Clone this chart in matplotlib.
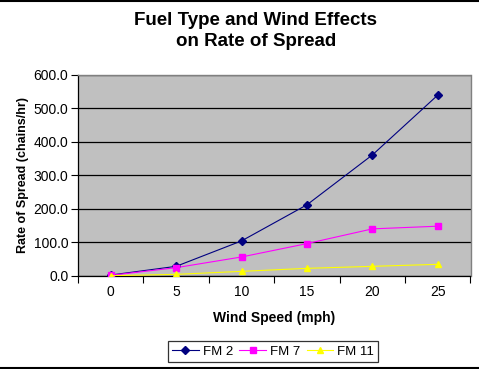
import matplotlib
matplotlib.use("Agg")
import matplotlib.pyplot as plt
from matplotlib.lines import Line2D

wind_speed = ["0", "5", "10", "15", "20", "25"]
fm2 = [2, 28, 104, 212, 361, 540]
fm7 = [1, 24, 56, 96, 140, 148]
fm11 = [0, 4, 13, 22, 28, 34]
yticks = [0, 100, 200, 300, 400, 500, 600]

plt.rcParams['font.family'] = ['Liberation Sans', 'DejaVu Sans']

fig = plt.figure(figsize=(4.79, 3.69), dpi=100)
fig.patch.set_facecolor('white')
ax = fig.add_axes([78/479, 1 - 275.7/369, (470.5-78)/479, (275.7-75)/369])
ax.set_facecolor('#C0C0C0')

x = list(range(len(wind_speed)))
ax.set_axisbelow(True)
ax.yaxis.grid(True, color='black', linewidth=0.9)
ax.plot(x, fm2, color='#000080', marker='D', markersize=4, linewidth=0.8, label='FM 2', zorder=3)
ax.plot(x, fm7, color='#FF00FF', marker='s', markersize=5, linewidth=0.8, label='FM 7', zorder=3)
ax.plot(x, fm11, color='#FFFF00', marker='^', markersize=5, linewidth=0.8, label='FM 11', zorder=3)

ax.set_xlim(-0.5, len(wind_speed) - 0.5)
ax.set_ylim(0, 600)
ax.set_yticks(yticks)
ax.set_yticklabels([f"{v:.1f}" for v in yticks], fontsize=10)
ax.set_xticks(x)
ax.set_xticklabels(wind_speed, fontsize=10)
ax.set_xticks([i - 0.5 for i in range(len(wind_speed) + 1)], minor=True)
ax.tick_params(axis='x', which='major', length=0, pad=7)
ax.tick_params(axis='x', which='minor', length=5, width=0.8, direction='out')
ax.tick_params(axis='y', length=5, width=0.8, direction='out', pad=2)

for s in ['top', 'right']:
    ax.spines[s].set_color('#808080')
    ax.spines[s].set_linewidth(1.0)
for s in ['left', 'bottom']:
    ax.spines[s].set_color('black')
    ax.spines[s].set_linewidth(0.9)

ax.set_xlabel('Wind Speed (mph)', fontsize=10, fontweight='bold', labelpad=8)
ax.set_ylabel('Rate of Spread (chains/hr)', fontsize=9, fontweight='bold', labelpad=3)

fig.text(256/479, 1 - 31/369, 'Fuel Type and Wind Effects\non Rate of Spread',
         ha='center', va='center', fontsize=13.5, fontweight='bold', linespacing=1.3)

leg = fig.legend(loc='center', bbox_to_anchor=(273/479, 1 - 351.5/369), ncol=3,
                 fontsize=9.5, frameon=True, fancybox=False, handlelength=2.0,
                 handletextpad=0.3, columnspacing=0.5, borderpad=0.3, borderaxespad=0)
leg.get_frame().set_edgecolor('black')
leg.get_frame().set_linewidth(0.9)

fig.add_artist(Line2D([0, 1], [1 - 0.5/369, 1 - 0.5/369], color='black', linewidth=1.5, transform=fig.transFigure))
fig.add_artist(Line2D([0, 1], [1 - 367.5/369, 1 - 367.5/369], color='black', linewidth=1.5, transform=fig.transFigure))

fig.savefig('out.png', dpi=100, facecolor='white')
